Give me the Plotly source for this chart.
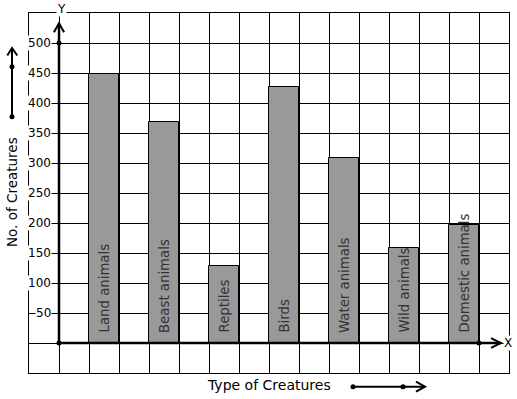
import plotly.graph_objects as go

categories = ["Land animals", "Beast animals", "Reptiles", "Birds",
              "Water animals", "Wild animals", "Domestic animals"]
values = [448, 369, 128, 426, 308, 158, 197]
y_ticks = [50, 100, 150, 200, 250, 300, 350, 400, 450, 500]

FONT = "DejaVu Sans"
positions = [1.5 + 2 * i for i in range(len(categories))]

fig = go.Figure()
fig.add_trace(go.Bar(
    x=positions, y=values, width=1,
    marker=dict(color="#999999", line=dict(color="black", width=1)),
    hoverinfo="skip", showlegend=False,
))

# axis dots
fig.add_trace(go.Scatter(
    x=[0, 0, 14], y=[0, 500, 0], mode="markers",
    marker=dict(color="black", size=5), cliponaxis=False,
    hoverinfo="skip", showlegend=False,
))

shapes = []
shapes.append(dict(type="line", xref="x", yref="y", x0=0, y0=0, x1=0, y1=533,
                   line=dict(color="black", width=2.5), layer="above"))
shapes.append(dict(type="line", xref="x", yref="y", x0=0, y0=0, x1=14.73, y1=0,
                   line=dict(color="black", width=2.5), layer="above"))
shapes.append(dict(type="path", xref="x", yref="y",
                   path="M -0.17,518 L 0,533 L 0.17,518",
                   line=dict(color="black", width=2), layer="above"))
shapes.append(dict(type="path", xref="x", yref="y",
                   path="M 14.4,8.3 L 14.73,0 L 14.4,-8.3",
                   line=dict(color="black", width=2), layer="above"))


def px2paper(px, py):
    return (px - 29) / 480.0, (373 - py) / 360.0


x0, y0 = px2paper(12, 116.7)
_, yt = px2paper(12, 48)
xa1, ya1 = px2paper(7.3, 55.5)
xa2, ya2 = px2paper(17.3, 55.5)
shapes.append(dict(type="line", xref="paper", yref="paper", x0=x0, y0=y0, x1=x0, y1=yt,
                   line=dict(color="black", width=2)))
shapes.append(dict(type="path", xref="paper", yref="paper",
                   path=f"M {xa1},{ya1} L {x0},{yt} L {xa2},{ya2}",
                   line=dict(color="black", width=2)))
xs, ys = px2paper(353, 386.7)
xt, _ = px2paper(425, 386.7)
xb1, yb1 = px2paper(416, 381.7)
xb2, yb2 = px2paper(416, 391.7)
shapes.append(dict(type="line", xref="paper", yref="paper", x0=xs, y0=ys, x1=xt, y1=ys,
                   line=dict(color="black", width=2)))
shapes.append(dict(type="path", xref="paper", yref="paper",
                   path=f"M {xb1},{yb1} L {xt},{ys} L {xb2},{yb2}",
                   line=dict(color="black", width=2)))
for (px, py) in [(12, 116.7), (12, 66.7), (353, 386.7), (403, 386.7)]:
    ax, ay = px2paper(px, py)
    shapes.append(dict(type="circle", xref="paper", yref="paper",
                       xsizemode="pixel", ysizemode="pixel",
                       xanchor=ax, yanchor=ay, x0=-2.5, x1=2.5, y0=-2.5, y1=2.5,
                       fillcolor="black", line=dict(color="black", width=0)))

annotations = []
for v in y_ticks:
    annotations.append(dict(x=-0.23, y=v, xref="x", yref="y", text=str(v),
                            showarrow=False, xanchor="right", yanchor="middle",
                            bgcolor="white", borderpad=0,
                            font=dict(family=FONT, size=12, color="black")))
for pos, cat in zip(positions, categories):
    annotations.append(dict(x=pos, y=0, xref="x", yref="y", text=cat,
                            showarrow=False, textangle=-90,
                            xanchor="center", yanchor="bottom", yshift=8,
                            font=dict(family=FONT, size=13.3, color="#333333")))
lx, ly = px2paper(61, 9)
annotations.append(dict(x=lx, y=ly, xref="paper", yref="paper", text="Y", showarrow=False,
                        xanchor="center", yanchor="middle", bgcolor="white", borderpad=0,
                        font=dict(family=FONT, size=12, color="black")))
lx, ly = px2paper(508, 343)
annotations.append(dict(x=lx, y=ly, xref="paper", yref="paper", text="X", showarrow=False,
                        xanchor="center", yanchor="middle", bgcolor="white", borderpad=0,
                        font=dict(family=FONT, size=12, color="black")))
tx, ty = px2paper(12, 192)
annotations.append(dict(x=tx, y=ty, xref="paper", yref="paper", text="No. of Creatures",
                        showarrow=False, textangle=-90, xanchor="center", yanchor="middle",
                        font=dict(family=FONT, size=13.5, color="black")))
tx, ty = px2paper(269, 385)
annotations.append(dict(x=tx, y=ty, xref="paper", yref="paper", text="Type of Creatures",
                        showarrow=False, xanchor="center", yanchor="middle",
                        font=dict(family=FONT, size=14, color="black")))

axis_common = dict(showgrid=True, gridcolor="black", gridwidth=1,
                   showticklabels=False, ticks="", zeroline=False,
                   showline=True, mirror=True, linecolor="black", linewidth=1,
                   fixedrange=True)
fig.update_layout(
    width=517, height=399,
    margin=dict(l=29, r=8, t=13, b=26, autoexpand=False),
    paper_bgcolor="white", plot_bgcolor="white",
    xaxis=dict(range=[-1, 15], tick0=0, dtick=1, **axis_common),
    yaxis=dict(range=[-50, 550], tick0=0, dtick=50, **axis_common),
    shapes=shapes, annotations=annotations,
    bargap=0, showlegend=False,
    font=dict(family=FONT),
)

fig.write_html("out.html", config={"displayModeBar": False},
               post_script="document.body.style.margin='0';")
